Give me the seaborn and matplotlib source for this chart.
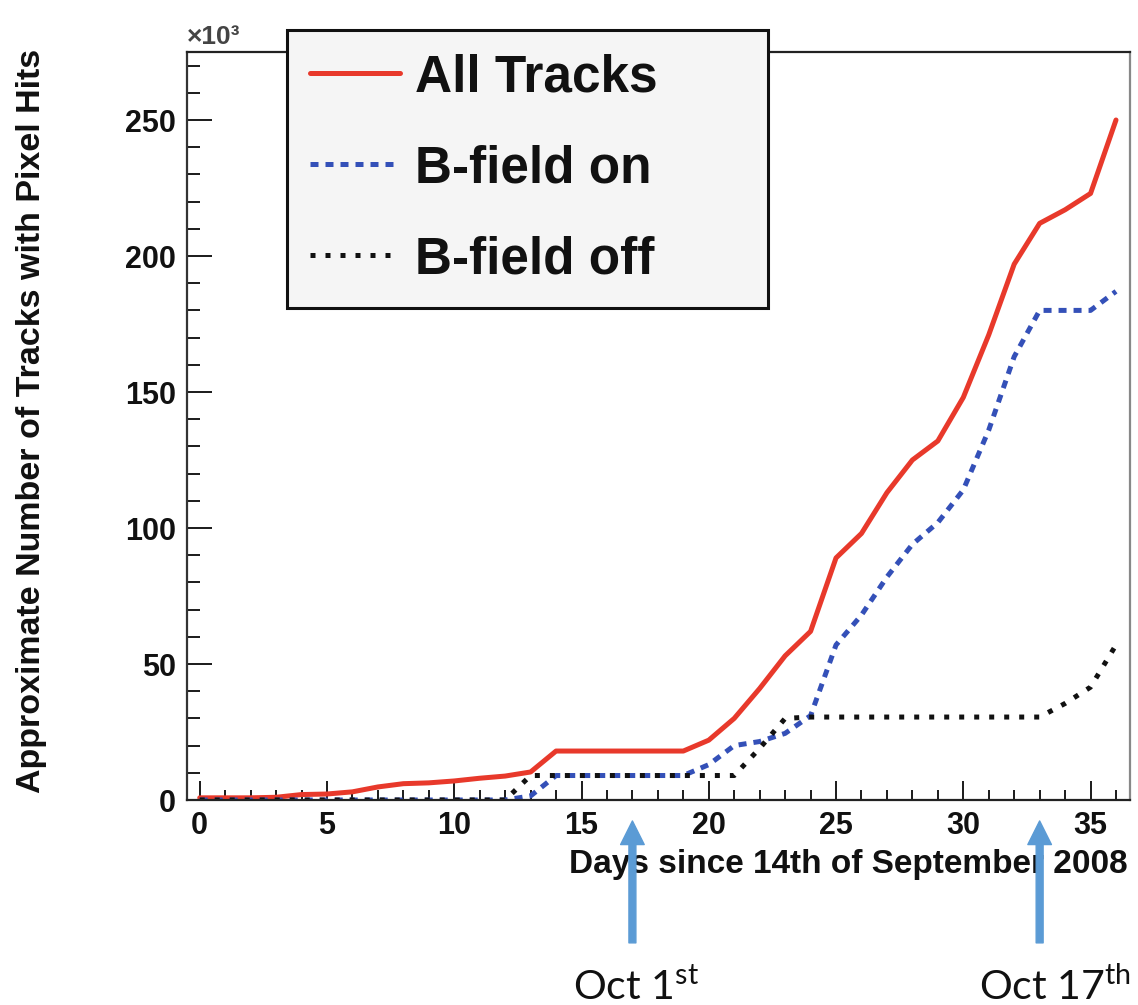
import matplotlib
matplotlib.use("Agg")
import matplotlib.pyplot as plt
from matplotlib.ticker import MultipleLocator
import pandas as pd
import seaborn as sns

# ---------------- data ----------------
days = list(range(0, 37))
all_tracks = [0.8, 0.8, 0.8, 1.0, 2.0, 2.2, 3.0, 4.8, 6.0, 6.3, 7.0, 8.0, 8.8, 10.3,
              18, 18, 18, 18, 18, 18, 22, 30, 41, 53, 62, 89, 98, 113, 125, 132,
              148, 171, 197, 212, 217, 223, 250]
bfield_on = [0, 0, 0, 0, 0, 0, 0, 0, 0, 0, 0, 0, 0, 1.5,
             9, 9, 9, 9, 9, 9, 13, 20, 21.5, 24.5, 31, 57, 68, 82, 94, 102,
             114, 136, 163, 180, 180, 180, 187]
bfield_off = [0, 0, 0, 0, 0, 0, 0, 0, 0, 0, 0, 0, 0, 9,
              9, 9, 9, 9, 9, 9, 9, 9, 19, 30, 30.5, 30.5, 30.5, 30.5, 30.5, 30.5,
              30.5, 30.5, 30.5, 30.5, 35.5, 41.5, 57]
series_names = ["All Tracks", "B-field on", "B-field off"]
event_days = [17, 33]
event_labels = ["Oct 1", "Oct 17"]
event_suffix = ["st", "th"]

df = pd.DataFrame({
    "day": days * 3,
    "value": all_tracks + bfield_on + bfield_off,
    "series": [series_names[0]] * len(days) + [series_names[1]] * len(days) + [series_names[2]] * len(days),
})

# ---------------- style ----------------
sns.set_style("white")
plt.rcParams["font.family"] = ["Liberation Sans", "DejaVu Sans"]
plt.rcParams["font.weight"] = "bold"
plt.rcParams["mathtext.fontset"] = "custom"
plt.rcParams["mathtext.rm"] = "Lato"

W, H = 1138, 1005
fig = plt.figure(figsize=(W / 100, H / 100), dpi=100)
ax = fig.add_axes([187 / W, 1 - 800 / H, (1130 - 187) / W, (800 - 52) / H])

palette = {series_names[0]: "#e8392b", series_names[1]: "#3450b8", series_names[2]: "#111111"}
dashes = {series_names[0]: "", series_names[1]: (1.6, 1.4), series_names[2]: (1.0, 2.0)}

sns.lineplot(data=df, x="day", y="value", hue="series", hue_order=series_names,
             style="series", style_order=series_names, palette=palette, dashes=dashes,
             linewidth=3.6, ax=ax, legend=False, sort=False)

ax.set_xlim(-0.5, 36.55)
ax.set_ylim(0, 275)
ax.xaxis.set_major_locator(MultipleLocator(5))
ax.xaxis.set_minor_locator(MultipleLocator(1))
ax.yaxis.set_major_locator(MultipleLocator(50))
ax.yaxis.set_minor_locator(MultipleLocator(10))

tc = "#1a1a1a"
ax.tick_params(axis="x", which="major", direction="in", length=14, width=1.4,
               labelsize=22, pad=8, color=tc, labelcolor="#111111", bottom=True, top=False)
ax.tick_params(axis="x", which="minor", direction="in", length=7, width=1.4,
               color=tc, bottom=True, top=False)
ax.tick_params(axis="y", which="major", direction="in", length=18, width=1.4,
               labelsize=22, pad=8, color=tc, labelcolor="#111111", left=True, right=False)
ax.tick_params(axis="y", which="minor", direction="in", length=9, width=1.4,
               color=tc, left=True, right=False)
for lab in ax.get_xticklabels() + ax.get_yticklabels():
    lab.set_fontweight("bold")

for side, col in [("left", "#333333"), ("bottom", "#222222"), ("top", "#222222"), ("right", "#888888")]:
    ax.spines[side].set_visible(True)
    ax.spines[side].set_color(col)
    ax.spines[side].set_linewidth(1.6)

ax.set_xlabel("Days since 14th of September 2008", fontsize=24, fontweight="bold",
              loc="right", color="#111111")
ax.xaxis.set_label_coords(0.998, -0.066)
ax.set_ylabel("Approximate Number of Tracks with Pixel Hits", fontsize=24.5,
              fontweight="bold", color="#111111")
ax.yaxis.set_label_coords(-0.1485, 0.507)

fig.text(187 / W, 1 - 37 / H, "×10³", ha="left", va="center", fontsize=19,
         fontweight="bold", color="#444444")

# legend
handles = ax.get_lines()[:3]
leg = ax.legend(handles, series_names, loc="upper left",
                bbox_to_anchor=(287 / W, 1 - 305 / H, (768 - 287) / W, 275 / H),
                bbox_transform=fig.transFigure, mode="expand", borderaxespad=0,
                fontsize=37, handlelength=1.75, handletextpad=0.3,
                borderpad=0.45, labelspacing=0.82, fancybox=False, framealpha=1,
                facecolor="#f5f5f5", edgecolor="#111111")
leg.get_frame().set_linewidth(2.2)
for t in leg.get_texts():
    t.set_fontweight("bold")
    t.set_color("#111111")

# event arrows
for d in event_days:
    ax.annotate("", xy=(d, -0.028), xytext=(d, -0.191),
                xycoords=("data", "axes fraction"), textcoords=("data", "axes fraction"),
                arrowprops=dict(width=5, headwidth=17, headlength=17, color="#5b9bd5", shrink=0),
                annotation_clip=False, zorder=10)

label_x = [573 / W, 979 / W]
for lx, lab, suf in zip(label_x, event_labels, event_suffix):
    fig.text(lx, 1 - 1000 / H, lab + r"$^{\mathregular{" + suf + "}}$", ha="left",
             va="baseline", fontsize=29.5, fontfamily="Lato", fontweight="normal",
             color="#111111")

fig.savefig("out.png", dpi=100)
